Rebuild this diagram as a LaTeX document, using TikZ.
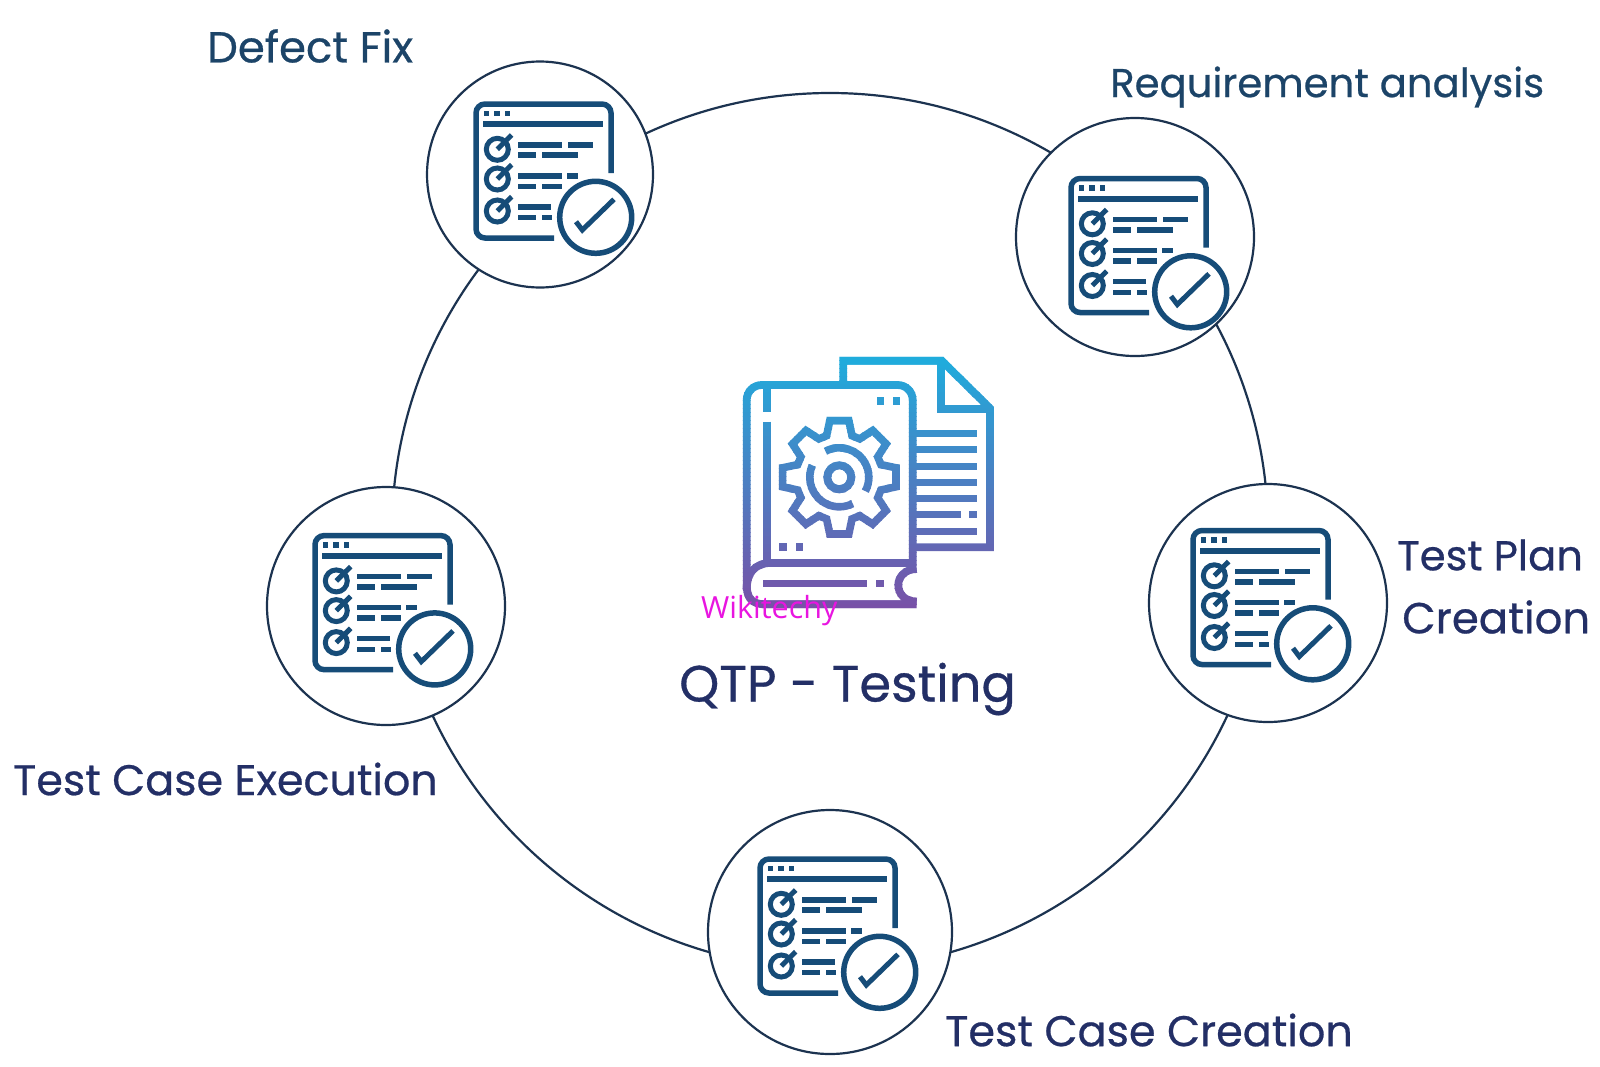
\documentclass[tikz,border=0pt]{standalone}
\usepackage{fontspec}
\setmainfont{Poppins}
\newfontfamily\labfont{Poppins}[FakeBold=0.6]
\newfontfamily\wikifont{Open Sans}
\definecolor{inka}{HTML}{1C4468}
\definecolor{inkb}{HTML}{232F66}
\definecolor{iconblue}{HTML}{164C78}
\definecolor{ringc}{HTML}{1C3350}
\definecolor{gtop}{HTML}{1FACDC}
\definecolor{gbot}{HTML}{7A4FA6}
\definecolor{wiki}{HTML}{E815E0}
\tikzset{
  stage/.style={circle,draw=ringc,line width=2.2pt,fill=white,inner sep=0pt},
  ring/.style={circle,draw=ringc,line width=2.2pt,inner sep=0pt},
  lab/.style={text=inkb,inner sep=0pt,align=center,anchor=west},
  ico/.style={draw=iconblue,line width=5.5pt},
  icb/.style={fill=iconblue,draw=none}
}
\newcommand{\lf}[1]{\labfont\fontsize{#1}{#1}\selectfont}
\newcommand{\checkicon}[2]{%
\begin{scope}[shift={(#1,#2)}]
 \draw[ico,rounded corners=9pt] (135,69) -- (135,0) -- (0,0) -- (0,134) -- (78,134);
 \fill[icb] (8,6.7) rectangle (13.3,12); \fill[icb] (18.3,6.7) rectangle (24,12); \fill[icb] (29,6.7) rectangle (34,12);
 \fill[icb] (7.3,17) rectangle (127.3,23);
 \foreach \y in {45.3,75,107}{
  \draw[ico,line width=5pt] (21.3,\y) circle (11);
  \draw[ico,line width=5pt] (21.3,\y) -- (35.7,{\y-14.3});
 }
 \fill[icb] (41.7,38.3) rectangle (85.7,43.7); \fill[icb] (91.7,38.3) rectangle (117.3,43.7);
 \fill[icb] (41.7,48.3) rectangle (60,54); \fill[icb] (65.7,48.3) rectangle (101.7,54);
 \fill[icb] (41.7,69.3) rectangle (85.7,74.7); \fill[icb] (91,69.3) rectangle (101.7,74.7);
 \fill[icb] (41.7,79.7) rectangle (60,85.3); \fill[icb] (65.7,79.7) rectangle (85.7,85.3);
 \fill[icb] (41.7,100.3) rectangle (75,105.7);
 \fill[icb] (41.7,111) rectangle (60,116.3); \fill[icb] (65.7,111) rectangle (75.7,116.3);
 \draw[ico,fill=white] (119.7,113.3) circle (36);
 \draw[ico,line width=5pt] (100,117.7) -- (106.3,126) -- (138,95.3);
\end{scope}}
\newcommand{\bookicon}[1]{%
\begin{scope}[draw=#1,fill=#1,line width=7.8pt]
 \draw (843.3,385) -- (843.3,360.7) -- (941.7,360.7) -- (990,408.3) -- (990,547.3) -- (913.3,547.3);
 \draw (940.7,360.7) -- (940.7,409.3) -- (990,409.3);
 \foreach \y in {433.3,449.7,466,482.3,498.3,531}{\fill[draw=none] (913,{\y-3.5}) rectangle (976.7,{\y+3.5});}
 \fill[draw=none] (913,511.2) rectangle (960.7,518.2); \fill[draw=none] (969.3,511.2) rectangle (976.7,518.2);
 \draw[rounded corners=15pt] (912.7,566) -- (912.7,385) -- (746.7,385) -- (746.7,590);
 \draw (766.7,385) -- (766.7,411.7);
 \draw (766.7,421.7) -- (766.7,562.7);
 \draw (766.7,562.7) -- (912.7,562.7);
 \draw (746.7,590) .. controls (746.7,572) and (755,564) .. (770,562.7);
 \draw (746.7,585) .. controls (746.7,598) and (752,604.3) .. (765,604.3) -- (916.7,604.3);
 \draw (916.7,569) .. controls (905,569) and (898.3,577) .. (898.3,585) .. controls (898.3,594) and (905,601.5) .. (916.7,601.5);
 \fill[draw=none] (762.7,580) rectangle (867.3,587.3); \fill[draw=none] (876,580) rectangle (884,587.3);
 \fill[draw=none] (876.7,397.3) rectangle (884,405); \fill[draw=none] (892.7,397.3) rectangle (900,405);
 \fill[draw=none] (779.3,543.3) rectangle (786.7,550.7); \fill[draw=none] (795.7,543.3) rectangle (803.3,550.7);
 \begin{scope}[shift={(839.3,477.3)},y=1pt,x=1pt,line width=7.6pt]
  \draw[miter limit=4]
   (90-9.5:57.5) -- (90+9.5:57.5) -- (90+17:43.5) -- (135-17:43.5)
   -- (135-9.5:57.5) -- (135+9.5:57.5) -- (135+17:43.5) -- (180-17:43.5)
   -- (180-9.5:57.5) -- (180+9.5:57.5) -- (180+17:43.5) -- (225-17:43.5)
   -- (225-9.5:57.5) -- (225+9.5:57.5) -- (225+17:43.5) -- (270-17:43.5)
   -- (270-9.5:57.5) -- (270+9.5:57.5) -- (270+17:43.5) -- (315-17:43.5)
   -- (315-9.5:57.5) -- (315+9.5:57.5) -- (315+17:43.5) -- (360-17:43.5)
   -- (360-9.5:57.5) -- (360+9.5:57.5) -- (360+17:43.5) -- (45-17:43.5)
   -- (45-9.5:57.5) -- (45+9.5:57.5) -- (45+17:43.5) -- (90-17:43.5) -- cycle;
  \draw (118:29.5) arc[start angle=118,end angle=-28,radius=29.5];
  \draw (156:29.5) arc[start angle=156,end angle=297,radius=29.5];
  \draw[line width=8pt] (0,0) circle (12);
 \end{scope}
\end{scope}}
\begin{document}
\begin{tikzpicture}[x=1pt,y=-1pt]
\useasboundingbox (0,0) rectangle (1600,1066);
\node[ring,minimum size=876pt] (bigring) at (830,531) {};
\node[stage,minimum size=226pt] (fix) at (540,174.5) {};
\node[stage,minimum size=238pt] (req) at (1135,237) {};
\node[stage,minimum size=238pt] (plan) at (1268,603) {};
\node[stage,minimum size=244pt] (create) at (830,932) {};
\node[stage,minimum size=238pt] (exec) at (386,606) {};
\checkicon{476}{104}
\checkicon{1071}{178.5}
\checkicon{1193}{530.5}
\checkicon{760}{859}
\checkicon{315}{535.6}
\foreach \yy in {352,356,...,612}{
  \pgfmathsetmacro{\pct}{max(0,min(100,(\yy-358)/(610-358)*100))}
  \colorlet{bandc}{gbot!\pct!gtop}
  \begin{scope}
   \clip (720,\yy) rectangle (1005,\yy+4.6);
   \bookicon{bandc}
  \end{scope}
}
\node[lab,text=inka,font=\lf{43.4}] (lfix) at (207,46) {Defect Fix};
\node[lab,text=inka,font=\lf{40.2}] (lreq) at (1110,87) {Requirement analysis};
\node[lab,font=\lf{41.7}] (lplan) at (1397,555) {Test Plan};
\node[lab,font=\lf{43.4}] (lplan2) at (1402,617) {Creation};
\node[lab,font=\lf{42.8}] (lexec) at (13,779) {Test Case Execution};
\node[lab,font=\lf{42.9}] (lcreate) at (945,1030) {Test Case Creation};
\node[lab,font=\lf{51}] (title) at (679,689) {QTP - Testing};
\node[lab,text=wiki,font=\wikifont\fontsize{30.5}{36}\selectfont] (wm) at (701,611) {Wikitechy};
\end{tikzpicture}
\end{document}
